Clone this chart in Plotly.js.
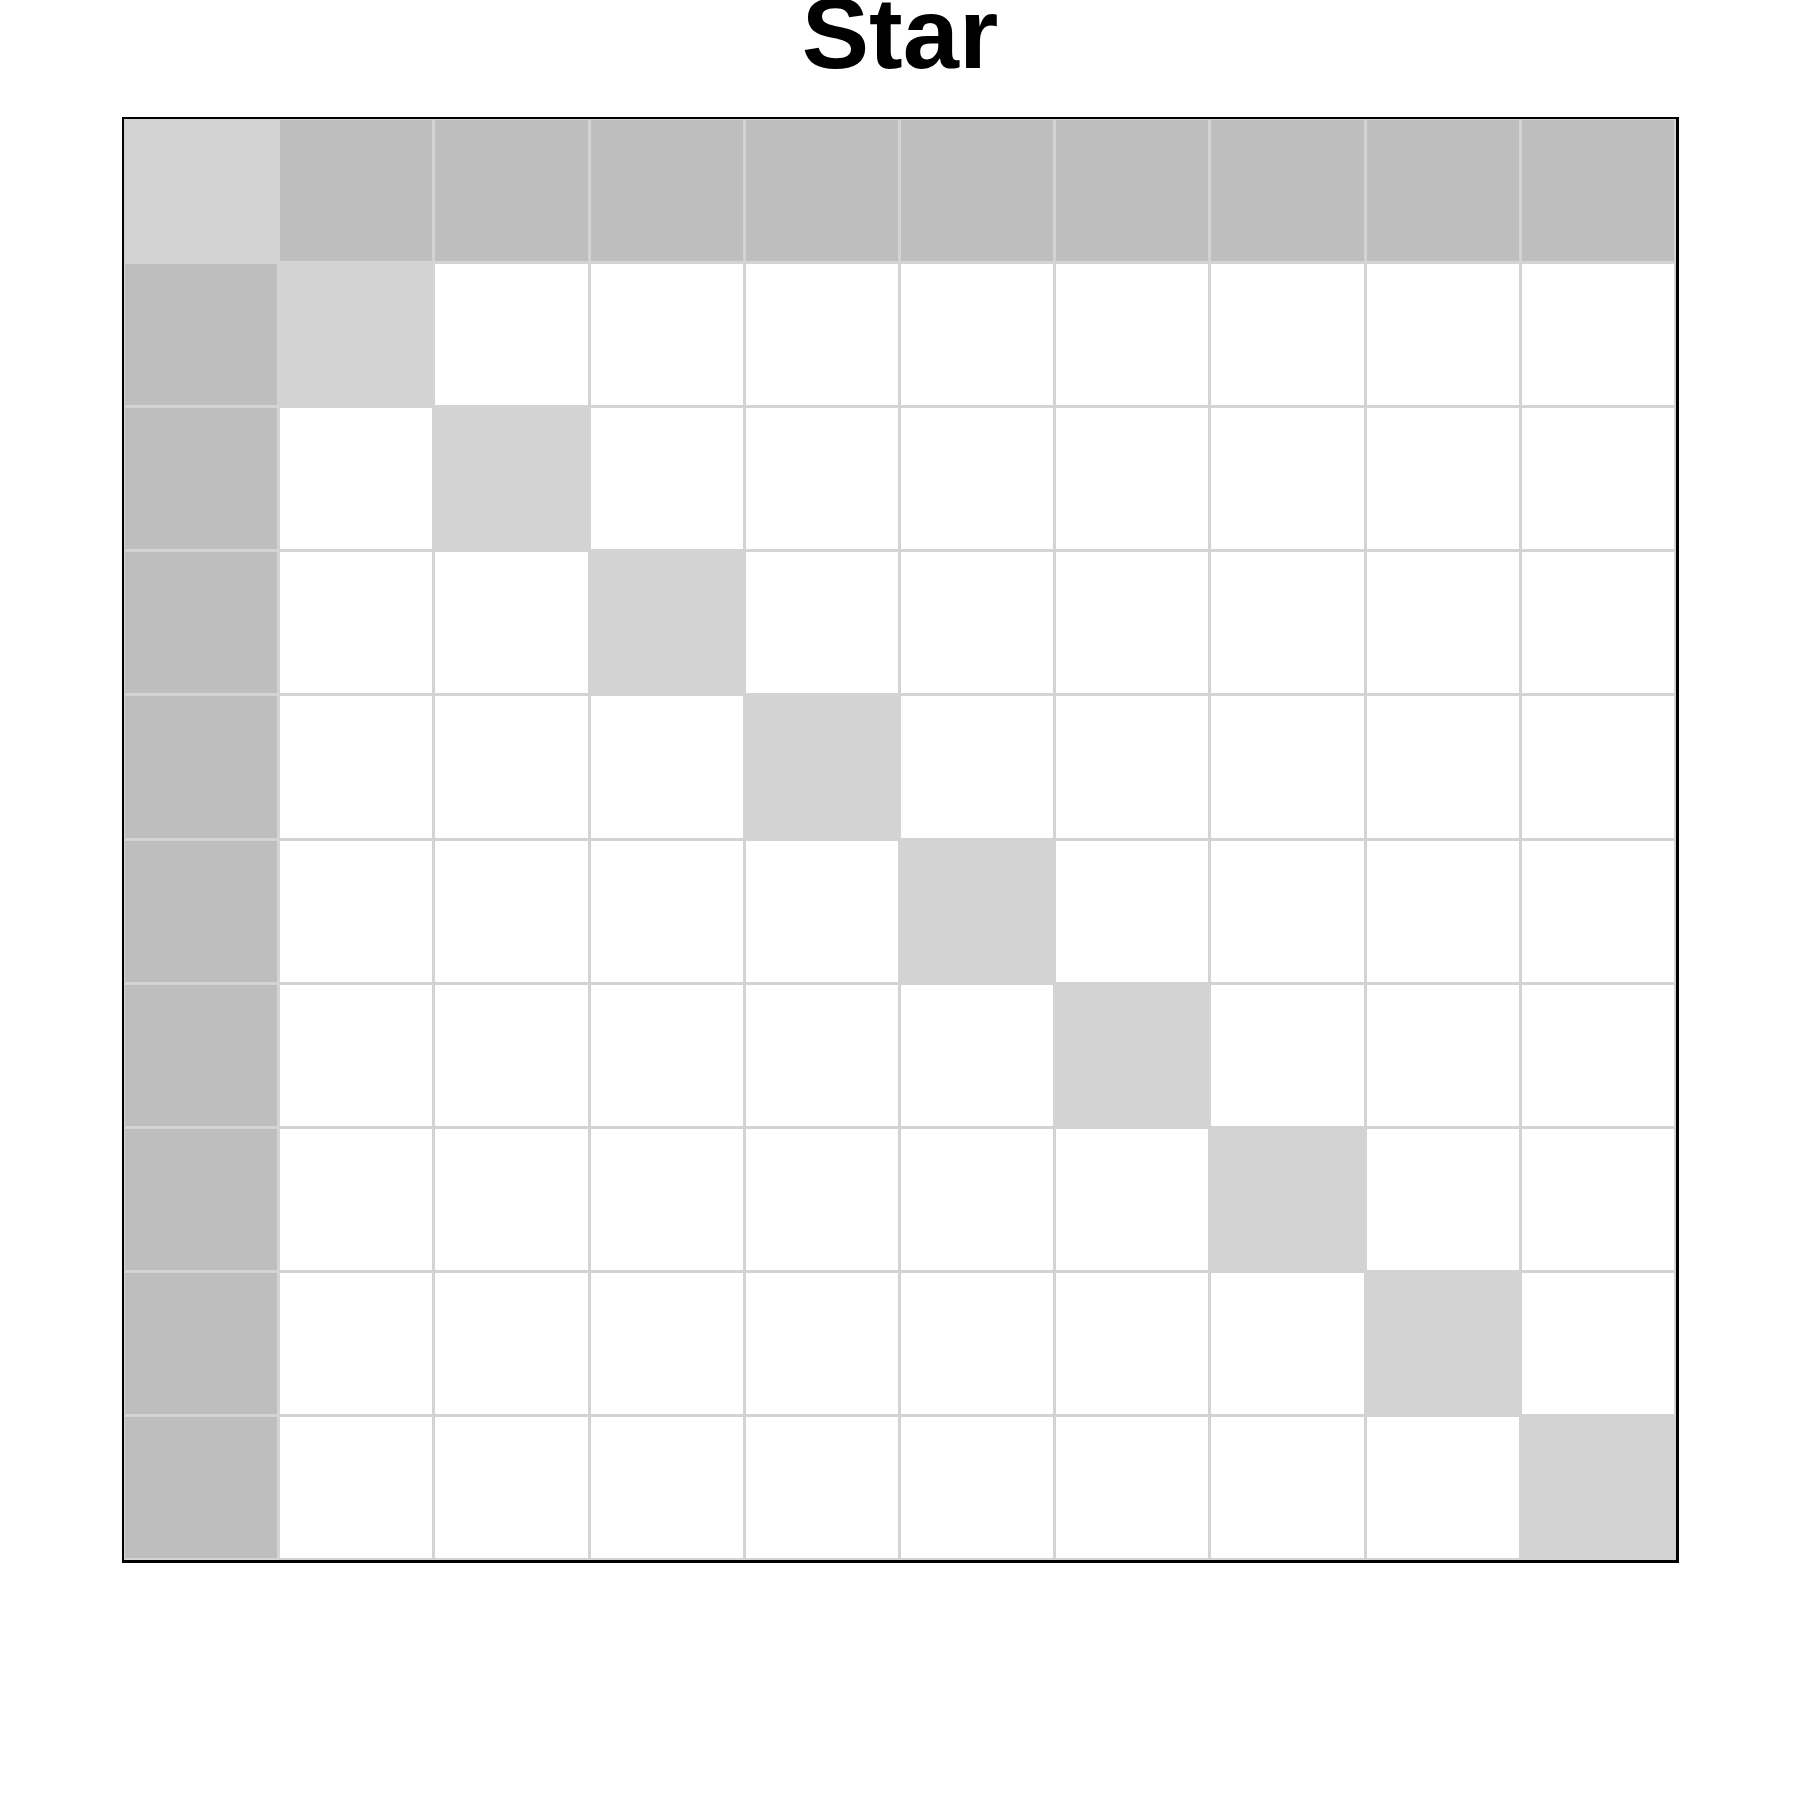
<!DOCTYPE html>
<html>
<head>
<meta charset="utf-8">
<script src="https://cdn.plot.ly/plotly-3.0.1.min.js"></script>
<style>html,body{margin:0;padding:0;background:#fff;}#chart{width:1800px;height:1800px;}</style>
</head>
<body>
<div id="chart"></div>
<script>
// Star graph on 10 nodes: node 0 is the hub
const nodes = [0, 1, 2, 3, 4, 5, 6, 7, 8, 9];
const edgeSources = [0, 0, 0, 0, 0, 0, 0, 0, 0];
const edgeTargets = [1, 2, 3, 4, 5, 6, 7, 8, 9];
// cell categories: 0 = no edge, 1 = edge, 2 = diagonal
const cellColors = ['#ffffff', '#bebebe', '#d3d3d3'];

const n = nodes.length;
const z = nodes.map(() => nodes.map(() => 0));
for (let i = 0; i < n; i++) z[i][i] = 2;
for (let k = 0; k < edgeSources.length; k++) {
  z[edgeSources[k]][edgeTargets[k]] = 1;
  z[edgeTargets[k]][edgeSources[k]] = 1;
}

const trace = {
  type: 'heatmap',
  x: nodes,
  y: nodes,
  z: z,
  zmin: 0,
  zmax: 2,
  colorscale: [[0, cellColors[0]], [0.5, cellColors[1]], [1, cellColors[2]]],
  showscale: false,
  xgap: 3,
  ygap: 3,
  hoverinfo: 'none'
};

const layout = {
  width: 1800,
  height: 1800,
  margin: {l: 124, r: 124, t: 119, b: 240, pad: 0},
  paper_bgcolor: '#ffffff',
  plot_bgcolor: '#d3d3d3',
  title: {
    text: '<b>Star</b>',
    font: {family: 'Liberation Sans, Arial, sans-serif', size: 101, color: '#000000'},
    x: 0.5,
    xanchor: 'center',
    y: 1 - 33 / 1800,
    yanchor: 'middle',
    yref: 'container'
  },
  xaxis: {
    range: [-0.5, n - 0.5],
    showticklabels: false, ticks: '', showgrid: false, zeroline: false,
    showline: true, mirror: true, linecolor: '#000000', linewidth: 2.5
  },
  yaxis: {
    range: [n - 0.5, -0.5],
    showticklabels: false, ticks: '', showgrid: false, zeroline: false,
    showline: true, mirror: true, linecolor: '#000000', linewidth: 2.5
  },
  showlegend: false
};

Plotly.newPlot('chart', [trace], layout, {staticPlot: true, displayModeBar: false});
</script>
</body>
</html>
